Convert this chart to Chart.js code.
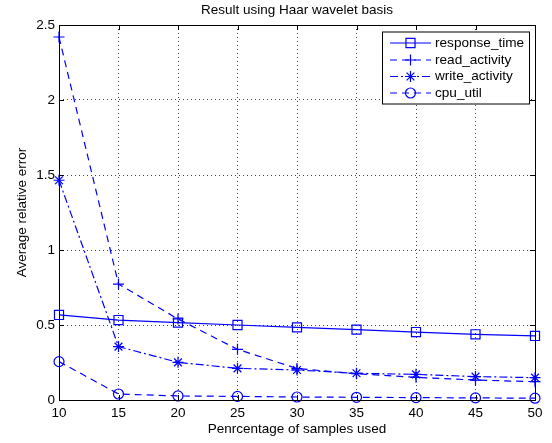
<!DOCTYPE html>
<html>
<head>
<meta charset="utf-8">
<script src="https://cdn.jsdelivr.net/npm/chart.js@4.4.1/dist/chart.umd.min.js"></script>
<style>
  html, body { margin: 0; padding: 0; background: #fff; }
  #wrap { width: 552px; height: 443px; position: relative; }
</style>
</head>
<body>
<div id="wrap"><canvas id="errChart" width="552" height="443"></canvas></div>
<script>
// data
const samplePct = [10, 15, 20, 25, 30, 35, 40, 45, 50];
const responseTime = [0.567, 0.533, 0.516, 0.5, 0.484, 0.469, 0.453, 0.438, 0.427];
const readActivity = [2.42, 0.773, 0.54, 0.338, 0.21, 0.175, 0.151, 0.133, 0.122];
const writeActivity = [1.465, 0.356, 0.251, 0.211, 0.2, 0.178, 0.171, 0.156, 0.149];
const cpuUtil = [0.256, 0.04, 0.027, 0.024, 0.02, 0.018, 0.016, 0.014, 0.012];
const xTickLabels = ["10", "15", "20", "25", "30", "35", "40", "45", "50"];
const yTickLabels = ["0", "0.5", "1", "1.5", "2", "2.5"];

const BLUE = "#0000ff";
const FONT = "'Liberation Sans', Arial, Helvetica, sans-serif";

const series = [
  { label: "response_time", data: responseTime, dash: [], marker: "rect", r: 6.4 },
  { label: "read_activity", data: readActivity, dash: [7, 5], marker: "cross", r: 5.5 },
  { label: "write_activity", data: writeActivity, dash: [8, 3, 2, 3], marker: "star", r: 5.5 },
  { label: "cpu_util", data: cpuUtil, dash: [7, 5], marker: "circle", r: 5 },
];

const datasets = series.map((s, i) => ({
  label: s.label,
  data: samplePct.map((x, j) => ({ x: x, y: s.data[j] })),
  borderColor: BLUE,
  borderWidth: 1.2,
  borderDash: s.dash,
  backgroundColor: "transparent",
  pointStyle: s.marker,
  pointRadius: s.r,
  pointBorderColor: BLUE,
  pointBackgroundColor: "transparent",
  pointBorderWidth: 1.2,
  tension: 0,
  clip: false,
  order: series.length - i,
}));

// frame, inward ticks, title, axis titles, legend box
const decor = {
  id: "decor",
  afterDraw(chart) {
    const ctx = chart.ctx;
    const a = chart.chartArea;
    const xs = chart.scales.x, ys = chart.scales.y;
    ctx.save();
    ctx.strokeStyle = "#000";
    ctx.lineWidth = 1;
    ctx.setLineDash([]);
    ctx.strokeRect(Math.round(a.left) + 0.5, Math.round(a.top) + 0.5,
      Math.round(a.right - a.left), Math.round(a.bottom - a.top));

    const tl = 5;
    ctx.beginPath();
    samplePct.forEach((v) => {
      const px = Math.round(xs.getPixelForValue(v)) + 0.5;
      ctx.moveTo(px, a.bottom); ctx.lineTo(px, a.bottom - tl);
      ctx.moveTo(px, a.top); ctx.lineTo(px, a.top + tl);
    });
    yTickLabels.forEach((t) => {
      const py = Math.round(ys.getPixelForValue(parseFloat(t))) + 0.5;
      ctx.moveTo(a.left, py); ctx.lineTo(a.left + tl, py);
      ctx.moveTo(a.right, py); ctx.lineTo(a.right - tl, py);
    });
    ctx.stroke();

    const cx = (a.left + a.right) / 2;
    ctx.fillStyle = "#000";
    ctx.textAlign = "center";
    ctx.textBaseline = "middle";
    ctx.font = "13.5px " + FONT;
    ctx.fillText("Result using Haar wavelet basis", cx, 10);
    ctx.fillText("Penrcentage of samples used", cx, 429);
    ctx.save();
    ctx.translate(22, (a.top + a.bottom) / 2);
    ctx.rotate(-Math.PI / 2);
    ctx.fillText("Average relative error", 0, 0);
    ctx.restore();

    // legend
    const lx = 382, ly = 31.5, lw = 147, lh = 72;
    ctx.fillStyle = "#fff";
    ctx.fillRect(lx, ly, lw, lh);
    ctx.strokeStyle = "#000";
    ctx.strokeRect(lx + 0.5, ly + 0.5, lw, lh);
    const rowY = [43, 60, 76.5, 93];
    series.forEach((s, i) => {
      const y = rowY[i];
      ctx.strokeStyle = BLUE;
      ctx.lineWidth = 1.2;
      ctx.setLineDash(s.dash);
      ctx.beginPath();
      ctx.moveTo(390, y); ctx.lineTo(431, y);
      ctx.stroke();
      ctx.setLineDash([]);
      ctx.fillStyle = "rgba(0,0,0,0)";
      ctx.strokeStyle = BLUE;
      Chart.helpers.drawPoint(ctx, {
        pointStyle: s.marker, radius: s.r, rotation: 0, borderWidth: 1.2,
      }, 410.5, y);
      ctx.fillStyle = "#000";
      ctx.textAlign = "left";
      ctx.font = "13.6px " + FONT;
      ctx.fillText(s.label, 435, y);
    });
    ctx.restore();
  },
};

new Chart(document.getElementById("errChart"), {
  type: "line",
  data: { datasets: datasets },
  plugins: [decor],
  options: {
    responsive: false,
    animation: false,
    layout: { padding: { top: 25, right: 17, bottom: 0, left: 0 } },
    plugins: { legend: { display: false }, title: { display: false }, tooltip: { enabled: false } },
    scales: {
      x: {
        type: "linear",
        min: 10,
        max: 50,
        afterFit: (s) => { s.height = 43; },
        afterBuildTicks: (s) => { s.ticks = samplePct.map((v) => ({ value: v })); },
        ticks: {
          color: "#000",
          padding: 5,
          maxRotation: 0,
          font: { family: FONT, size: 13.5 },
          callback: (v, i) => xTickLabels[i],
        },
        grid: { color: "rgba(0,0,0,0.75)", lineWidth: 1, drawTicks: false },
        border: { display: false, dash: [1, 3] },
      },
      y: {
        min: 0,
        max: 2.5,
        afterFit: (s) => { s.width = 59; },
        afterBuildTicks: (s) => { s.ticks = yTickLabels.map((t) => ({ value: parseFloat(t) })); },
        ticks: {
          color: "#000",
          padding: 4,
          font: { family: FONT, size: 13.5 },
          callback: (v, i) => yTickLabels[i],
        },
        grid: { color: "rgba(0,0,0,0.75)", lineWidth: 1, drawTicks: false },
        border: { display: false, dash: [1, 3] },
      },
    },
  },
});
</script>
</body>
</html>
